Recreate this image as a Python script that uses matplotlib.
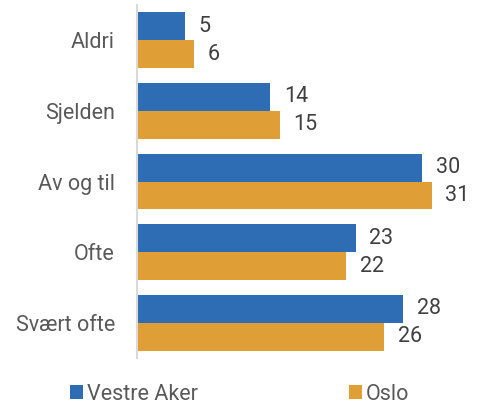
import numpy as np
import matplotlib.pyplot as plt

categories = ["Aldri", "Sjelden", "Av og til", "Ofte", "Svært ofte"]
vestre_aker = [5, 14, 30, 23, 28]
oslo = [6, 15, 31, 22, 26]

blue = "#2E6DB4"
orange = "#E09F36"
grey = "#595959"
fs = 15.5

plt.rcParams["font.family"] = ["Roboto", "DejaVu Sans"]

fig = plt.figure(figsize=(4.79, 4.05), dpi=100)
ax = fig.add_axes([137 / 479, 47 / 405, 342 / 479, 353 / 405])

y = np.arange(len(categories))
h = 0.395
b1 = ax.barh(y - h / 2, vestre_aker, height=h, color=blue, label="Vestre Aker")
b2 = ax.barh(y + h / 2, oslo, height=h, color=orange, label="Oslo")

for bars, vals in ((b1, vestre_aker), (b2, oslo)):
    for bar, v in zip(bars, vals):
        ax.annotate(str(v), (bar.get_width(), bar.get_y() + bar.get_height() / 2),
                    xytext=(10, 0), textcoords="offset points",
                    va="center", ha="left", fontsize=fs, color="#404040")

ax.set_xlim(0, 36)
ax.set_ylim(len(categories) - 0.5, -0.5)
ax.set_yticks(y)
ax.set_yticklabels(categories, fontsize=fs, color=grey)
ax.tick_params(axis="y", length=0, pad=16)
ax.set_xticks([])
for s in ("top", "right", "bottom"):
    ax.spines[s].set_visible(False)
ax.spines["left"].set_color("#D9D9D9")
ax.spines["left"].set_linewidth(1.5)

fig.legend(handles=[b1, b2], loc="center", bbox_to_anchor=(0.5, 11 / 405),
           ncol=2, frameon=False, fontsize=fs, handlelength=0.6, handleheight=0.6,
           handletextpad=0.2, columnspacing=7.0, labelcolor=grey)

fig.savefig("out.png", dpi=100)
